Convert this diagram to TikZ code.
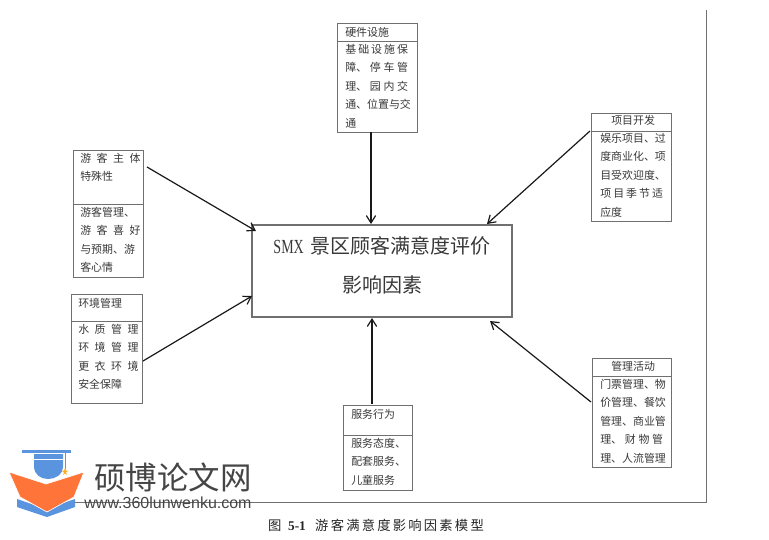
\documentclass[tikz,border=0pt]{standalone}
\usepackage{fontspec}
\setmainfont{Liberation Serif}
\newfontfamily\cjk{Noto Sans CJK SC}
\newfontfamily\logofont{Liberation Sans}
\usetikzlibrary{arrows.meta}
\definecolor{boxgray}{HTML}{707070}
\definecolor{inkgray}{HTML}{383838}
\definecolor{logoblue}{HTML}{5B94DE}
\definecolor{logoorange}{HTML}{FF7539}
\definecolor{logogray}{HTML}{454545}
\newcommand{\fitline}[2][47bp]{\makebox[#1][s]{#2}}
\tikzset{
  x=0.75pt, y=-0.75pt,
  frame/.style={draw=boxgray, line width=0.65pt, rectangle, inner sep=0pt},
  boxtext/.style={anchor=north west, inner sep=0pt, align=left, text=inkgray,
    font=\cjk\fontsize{8.2}{13.8}\selectfont},
  arrowline/.style={-{Straight Barb[length=5.5pt,width=7pt]}, line width=0.9pt, black!90}
}
\begin{document}
\begin{tikzpicture}
    \useasboundingbox (0,0) rectangle (769,540);
    %% Draw the outer rule
    \coordinate (ruletop) at (706,10);
    \coordinate (rulecorner) at (706,502);
    \coordinate (ruleend) at (75,502);
    \draw[boxgray, line width=0.75pt] (ruletop) -- (rulecorner) -- (ruleend);
    %% Draw the main box
    \node[frame, line width=0.95pt, minimum width=195pt, minimum height=69pt] (main) at (382,271) {};
    \node[inner sep=0pt, align=center, font=\cjk\fontsize{15}{29.5}\selectfont, text=inkgray] (maintext) at (382,265.5)
      {{\rmfamily\fontsize{15}{29.5}\selectfont\scalebox{0.7}[1]{SMX}}\hspace{5bp}景区顾客满意度评价\\影响因素};
    %% Draw the frames
    \node[frame, minimum width=60pt, minimum height=13.5pt] (hwtop) at (377,32) {};
    \node[frame, minimum width=60pt, minimum height=68.25pt] (hwbot) at (377,86.5) {};
    \node[frame, minimum width=60pt, minimum height=13.5pt] (projtop) at (631.5,122) {};
    \node[frame, minimum width=60pt, minimum height=67.5pt] (projbot) at (631.5,176) {};
    \node[frame, minimum width=52.5pt, minimum height=40.5pt] (usertop) at (108,177) {};
    \node[frame, minimum width=52.5pt, minimum height=54.75pt] (userbot) at (108,240.5) {};
    \node[frame, minimum width=53.25pt, minimum height=20.25pt] (envtop) at (106.5,307.5) {};
    \node[frame, minimum width=53.25pt, minimum height=61.5pt] (envbot) at (106.5,362) {};
    \node[frame, minimum width=59.25pt, minimum height=13.5pt] (mgmttop) at (631.5,367) {};
    \node[frame, minimum width=59.25pt, minimum height=68.25pt] (mgmtbot) at (631.5,421.5) {};
    \node[frame, minimum width=51.75pt, minimum height=22.5pt] (servtop) at (377.5,420) {};
    \node[frame, minimum width=51.75pt, minimum height=41.25pt] (servbot) at (377.5,462.5) {};
    %% Draw the box texts
    \node[boxtext] (hwhead) at (345,27) {硬件设施};
    \node[boxtext] (hwbody) at (345,44) {\fitline{基 础 设 施 保}\\\fitline{障、 停 车 管}\\\fitline{理、 园 内 交}\\\fitline{通、位置与交}\\通};
    \node[boxtext] (projhead) at (611,115) {项目开发};
    \node[boxtext] (projbody) at (600,133) {\fitline{娱乐项目、过}\\\fitline{度商业化、项}\\\fitline{目受欢迎度、}\\\fitline{项 目 季 节 适}\\应度};
    \node[boxtext] (userhead) at (80,153) {\fitline[45bp]{游 客 主 体}\\特殊性};
    \node[boxtext] (userbody) at (80,207) {\fitline[45bp]{游客管理、}\\\fitline[45bp]{游 客 喜 好}\\\fitline[45bp]{与预期、游}\\客心情};
    \node[boxtext] (envhead) at (78,298) {环境管理};
    \node[boxtext] (envbody) at (78,324) {\fitline[45bp]{水 质 管 理}\\\fitline[45bp]{环 境 管 理}\\\fitline[45bp]{更 衣 环 境}\\安全保障};
    \node[boxtext] (mgmthead) at (611,361) {管理活动};
    \node[boxtext] (mgmtbody) at (600,379) {\fitline{门票管理、物}\\\fitline{价管理、餐饮}\\\fitline{管理、商业管}\\\fitline{理、 财 物 管}\\\fitline{理、人流管理}};
    \node[boxtext] (servhead) at (351,409) {服务行为};
    \node[boxtext] (servbody) at (351,438) {服务态度、\\配套服务、\\儿童服务};
    %% Draw the arrows
    \coordinate (hwend) at (371,224);
    \coordinate (projstart) at (590,131);
    \coordinate (projend) at (487,224);
    \coordinate (userstart) at (147,167);
    \coordinate (userend) at (256,231);
    \coordinate (envstart) at (143,361);
    \coordinate (envend) at (252,296);
    \coordinate (mgmtstart) at (591,402);
    \coordinate (mgmtend) at (490,321);
    \coordinate (servstart) at (372,404);
    \coordinate (servend) at (372,318);
    \begin{scope}[every path/.style={arrowline}]
      \draw (hwbot.south -| hwend) -- (hwend);
      \draw (projstart) -- (projend);
      \draw (userstart) -- (userend);
      \draw (envstart) -- (envend);
      \draw (mgmtstart) -- (mgmtend);
      \draw (servstart) -- (servend);
    \end{scope}
    %% Draw the caption
    \node[inner sep=0pt, text=black!85, font=\cjk\fontsize{10}{12}\selectfont] (caption) at (376,525)
      {图\hspace{0.5em}{\rmfamily\bfseries 5-1}\hspace{0.7em}\makebox[126bp][s]{游\hfil 客\hfil 满\hfil 意\hfil 度\hfil 影\hfil 响\hfil 因\hfil 素\hfil 模\hfil 型}};
    %% Draw the logo
    \fill[logoblue] (17,499) -- (46,509) -- (75,499) -- (75,507) -- (47,517) -- (17,507) -- cycle;
    \fill[logoorange, draw=white, line width=0.5pt] (9,472) -- (46,484) -- (84,472) -- (74,497) -- (47,512) -- (20,497) -- cycle;
    \fill[logoblue] (22,450) rectangle (71,453);
    \fill[logoblue] (34,454) -- (63,454) -- (63,466) .. controls (63,475) and (55,479) .. (48,479) .. controls (41,479) and (34,475) .. (34,466) -- cycle;
    \draw[white, line width=0.4pt] (34,459) -- (63,459);
    \draw[logoblue, line width=0.6pt] (65,453) -- (65,469);
    \fill[logoorange!60!yellow] (65,468) -- (66,470.5) -- (68,471) -- (66,472.5) -- (67,475) -- (65,473.5) -- (63,475) -- (64,472.5) -- (62,471) -- (64,470.5) -- cycle;
    \node[inner sep=0pt, text=logogray, font=\cjk\fontsize{23.6}{25}\selectfont] (logotitle) at (173,477) {硕博论文网};
    \node[inner sep=0pt, text=logogray, font=\logofont\fontsize{12}{14}\selectfont] (logourl) at (168,503) {www.360lunwenku.com};
\end{tikzpicture}
\end{document}
